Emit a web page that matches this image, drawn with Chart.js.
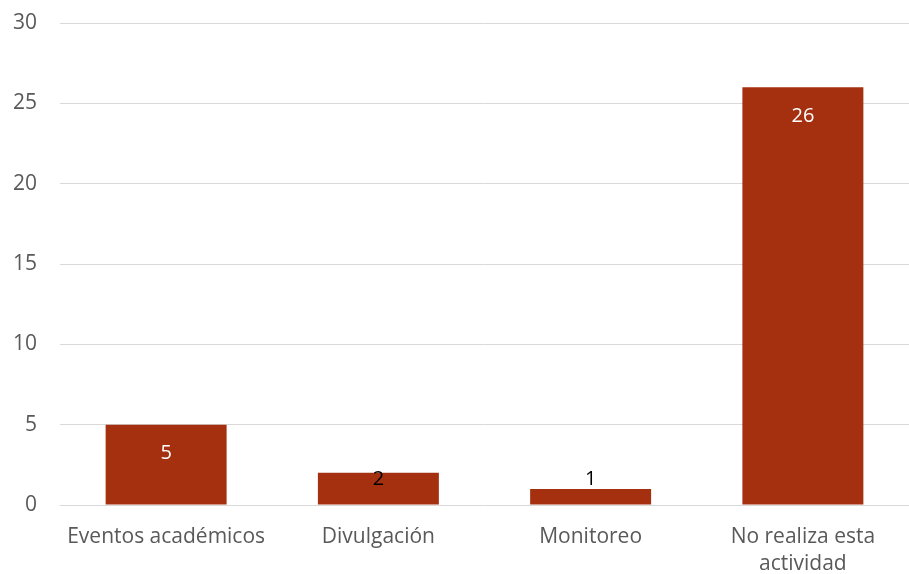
<!DOCTYPE html>
<html>
<head>
<meta charset="utf-8">
<script src="https://cdn.jsdelivr.net/npm/chart.js@4"></script>
<style>
html,body{margin:0;padding:0;background:#fff;}
#c{display:block;}
</style>
</head>
<body>
<canvas id="c" width="909" height="574"></canvas>
<script>
const categories = [["Eventos académicos"], ["Divulgación"], ["Monitoreo"], ["No realiza esta", "actividad"]];
const values = [5, 2, 1, 26];
const yTicks = [0, 5, 10, 15, 20, 25, 30];

const FONT = "'Open Sans', sans-serif";

const labelPlugin = {
  id: 'barLabels',
  afterDatasetsDraw(chart) {
    const ctx = chart.ctx;
    const meta = chart.getDatasetMeta(0);
    ctx.save();
    ctx.font = "20px " + FONT;
    ctx.textAlign = 'center';
    ctx.textBaseline = 'middle';
    meta.data.forEach((bar, i) => {
      const top = bar.y, base = bar.base;
      let y = top + 29;
      let color = '#ffffff';
      if (y > base - 25) { y = base - 25; color = '#000000'; }
      ctx.fillStyle = color;
      ctx.fillText(String(values[i]), bar.x, y);
    });
    ctx.restore();
  }
};

new Chart(document.getElementById('c'), {
  type: 'bar',
  data: {
    labels: categories,
    datasets: [{
      data: values,
      backgroundColor: '#A5300F',
      borderWidth: 0,
      categoryPercentage: 1,
      barPercentage: 0.57
    }]
  },
  options: {
    responsive: false,
    animation: false,
    devicePixelRatio: 1,
    layout: { padding: { top: 23, right: -1, left: 0, bottom: 0 } },
    plugins: { legend: { display: false }, tooltip: { enabled: false } },
    scales: {
      x: {
        grid: { display: false },
        border: { display: false },
        ticks: { color: '#595959', font: { family: FONT, size: 21, lineHeight: 1.3 }, maxRotation: 0, autoSkip: false, padding: 10 },
        afterFit(s) { s.height = 69; }
      },
      y: {
        min: 0, max: 30,
        afterBuildTicks(s) { s.ticks = yTicks.map(v => ({ value: v })); },
        grid: { color: '#d9d9d9', lineWidth: 1, drawTicks: false },
        border: { display: false },
        ticks: { color: '#595959', font: { family: FONT, size: 21, lineHeight: 0.2 }, padding: 23 },
        afterFit(s) { s.width = 60; s.paddingTop = 0; s.paddingBottom = 0; }
      }
    }
  },
  plugins: [labelPlugin]
});
</script>
</body>
</html>
